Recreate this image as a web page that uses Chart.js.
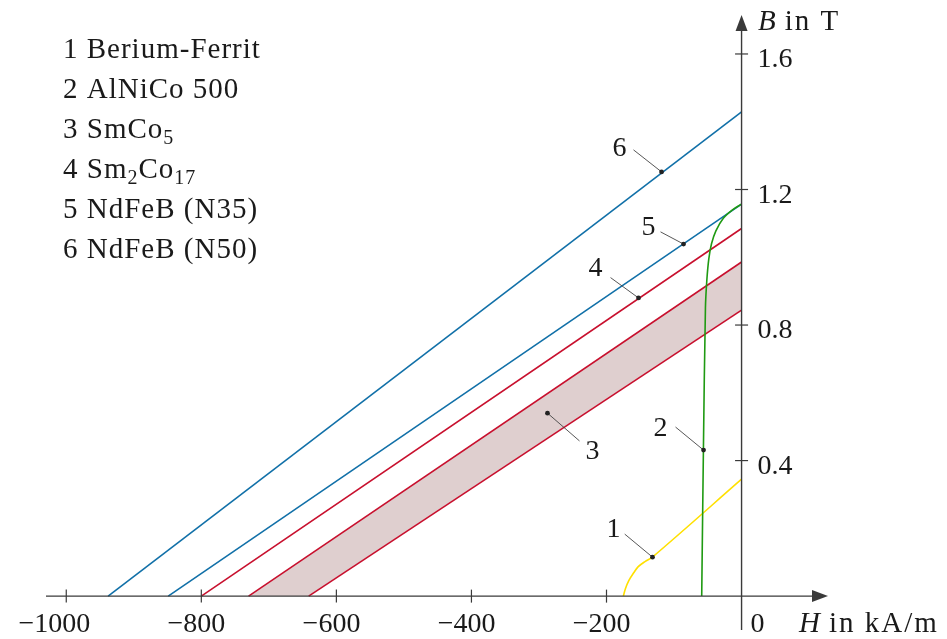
<!DOCTYPE html>
<html>
<head>
<meta charset="utf-8">
<script src="https://cdn.jsdelivr.net/npm/chart.js@4/dist/chart.umd.min.js"></script>
<style>
  html, body { margin: 0; padding: 0; background: #ffffff; }
  #wrap { width: 947px; height: 639px; position: relative; }
</style>
</head>
<body>
<div id="wrap"><canvas id="c" width="947" height="639"></canvas></div>
<script>
// ---- data (H in kA/m, B in T) ----
const legendItems = [
  [{t: "1 Berium-Ferrit"}],
  [{t: "2 AlNiCo 500"}],
  [{t: "3 SmCo"}, {t: "5", sub: true}],
  [{t: "4 Sm"}, {t: "2", sub: true}, {t: "Co"}, {t: "17", sub: true}],
  [{t: "5 NdFeB (N35)"}],
  [{t: "6 NdFeB (N50)"}]
];
const xTicks = [-1000, -800, -600, -400, -200];
const yTicks = [0.4, 0.8, 1.2, 1.6];
const xTickLabels = ["\u22121000", "\u2212800", "\u2212600", "\u2212400", "\u2212200"];
const yTickLabels = ["0.4", "0.8", "1.2", "1.6"];

const bariumFerrit = [
  {x: -175, y: 0}, {x: -172, y: 0.022}, {x: -167, y: 0.046}, {x: -160, y: 0.068},
  {x: -153, y: 0.087}, {x: -143, y: 0.102}, {x: -132, y: 0.115}, {x: 0, y: 0.345}
];
const alnico500 = [
  {x: -59, y: 0}, {x: -56.5, y: 0.43}, {x: -53.5, y: 0.85}, {x: -51.5, y: 0.93},
  {x: -48.5, y: 0.995}, {x: -44.5, y: 1.04}, {x: -38, y: 1.078}, {x: -27, y: 1.115},
  {x: -13.5, y: 1.14}, {x: 0, y: 1.157}
];
const smco5Upper = [{x: -730, y: 0}, {x: 0, y: 0.986}];
const smco5Lower = [{x: -641, y: 0}, {x: 0, y: 0.844}];
const sm2co17 = [{x: -800, y: 0}, {x: 0, y: 1.085}];
const ndfebN35 = [{x: -849, y: 0}, {x: 0, y: 1.157}];
const ndfebN50 = [{x: -938, y: 0}, {x: 0, y: 1.429}];
// SmCo5 spread band: upper line forward, lower line back
const smco5Band = smco5Upper.concat(smco5Lower.slice().reverse());

// callouts: label text, marker on curve, leader end, label centre (data coords)
const callouts = [
  {t: "1", dot: [-131.9, 0.115], lead: [-173, 0.183], lab: [-189.6, 0.200]},
  {t: "2", dot: [-56.3, 0.431], lead: [-97.8, 0.499], lab: [-120, 0.496]},
  {t: "3", dot: [-287.4, 0.540], lead: [-240, 0.458], lab: [-220.7, 0.428]},
  {t: "4", dot: [-152.6, 0.880], lead: [-194, 0.940], lab: [-216.3, 0.968]},
  {t: "5", dot: [-85.9, 1.039], lead: [-120, 1.075], lab: [-137.8, 1.089]},
  {t: "6", dot: [-118.5, 1.252], lead: [-160, 1.317], lab: [-180.7, 1.325]}
];

const FONT = '"Liberation Serif", "Times New Roman", serif';
const FS = 28;
const AXIS = '#3a3a3a';
const BLUE = '#1170a8';
const RED = '#c8102e';
const GREEN = '#1f9a12';
const YELLOW = '#ffe000';
const BAND = '#dfcfcf';

function drawRich(ctx, segs, x, y, size) {
  let cx = x;
  for (const s of segs) {
    if (s.sub) {
      ctx.font = Math.round(size * 0.7) + 'px ' + FONT;
      ctx.fillText(s.t, cx, y + size * 0.2);
    } else {
      ctx.font = size + 'px ' + FONT;
      ctx.fillText(s.t, cx, y);
    }
    cx += ctx.measureText(s.t).width;
  }
}

function drawTitle(ctx, italicPart, rest, x, y) {
  ctx.letterSpacing = '2px';
  ctx.font = 'italic ' + (FS + 1) + 'px ' + FONT;
  ctx.fillText(italicPart, x, y);
  const w = ctx.measureText(italicPart).width;
  ctx.font = (FS + 1) + 'px ' + FONT;
  ctx.fillText(rest, x + w + 7, y);
  ctx.letterSpacing = '0px';
}

const axesPlugin = {
  id: 'axesPlugin',
  afterDatasetsDraw(chart) {
    const ctx = chart.ctx;
    const xs = chart.scales.x, ys = chart.scales.y;
    const X = v => xs.getPixelForValue(v), Y = v => ys.getPixelForValue(v);
    ctx.save();
    ctx.strokeStyle = AXIS;
    ctx.fillStyle = AXIS;
    ctx.lineWidth = 1.4;
    // x axis
    const y0 = Y(0), x0 = X(0);
    const xl = X(xs.min), xr = X(xs.max);
    ctx.beginPath(); ctx.moveTo(xl, y0); ctx.lineTo(xr - 10, y0); ctx.stroke();
    ctx.beginPath(); ctx.moveTo(xr, y0); ctx.lineTo(xr - 16, y0 - 6); ctx.lineTo(xr - 16, y0 + 6); ctx.closePath(); ctx.fill();
    // y axis
    const yb = Y(ys.min), yt = Y(ys.max);
    ctx.beginPath(); ctx.moveTo(x0, yb); ctx.lineTo(x0, yt + 10); ctx.stroke();
    ctx.beginPath(); ctx.moveTo(x0, yt); ctx.lineTo(x0 - 6, yt + 16); ctx.lineTo(x0 + 6, yt + 16); ctx.closePath(); ctx.fill();
    // ticks
    ctx.lineWidth = 1.2;
    xTicks.forEach(v => { ctx.beginPath(); ctx.moveTo(X(v), y0 - 6.5); ctx.lineTo(X(v), y0 + 6.5); ctx.stroke(); });
    yTicks.forEach(v => { ctx.beginPath(); ctx.moveTo(x0 - 6.5, Y(v)); ctx.lineTo(x0 + 6.5, Y(v)); ctx.stroke(); });
    // tick labels
    ctx.fillStyle = '#1a1a1a';
    ctx.font = FS + 'px ' + FONT;
    ctx.textBaseline = 'alphabetic';
    ctx.textAlign = 'right';
    xTicks.forEach((v, i) => ctx.fillText(xTickLabels[i], X(v) + 24, y0 + 36));
    ctx.textAlign = 'left';
    ctx.fillText('0', x0 + 9, y0 + 36);
    yTicks.forEach((v, i) => ctx.fillText(yTickLabels[i], x0 + 16, Y(v) + 13));
    // axis titles
    drawTitle(ctx, 'H', 'in kA/m', 799, y0 + 36);
    drawTitle(ctx, 'B', 'in T', 758, 30);
    // legend text
    ctx.letterSpacing = '1px';
    legendItems.forEach((segs, i) => drawRich(ctx, segs, 63, 58 + i * 40, FS + 1));
    ctx.letterSpacing = '0px';
    // callouts
    ctx.textAlign = 'center'; ctx.textBaseline = 'middle';
    ctx.font = FS + 'px ' + FONT;
    callouts.forEach(c => {
      ctx.strokeStyle = '#444'; ctx.lineWidth = 0.9;
      ctx.beginPath(); ctx.moveTo(X(c.dot[0]), Y(c.dot[1])); ctx.lineTo(X(c.lead[0]), Y(c.lead[1])); ctx.stroke();
      ctx.fillStyle = '#222';
      ctx.beginPath(); ctx.arc(X(c.dot[0]), Y(c.dot[1]), 2.4, 0, Math.PI * 2); ctx.fill();
      ctx.fillStyle = '#1a1a1a';
      ctx.fillText(c.t, X(c.lab[0]), Y(c.lab[1]) + 1);
    });
    ctx.restore();
  }
};

const lineDs = (data, color, extra) => Object.assign({
  data, borderColor: color, backgroundColor: color, borderWidth: 1.6,
  showLine: true, pointRadius: 0, fill: false, tension: 0
}, extra || {});

new Chart(document.getElementById('c'), {
  type: 'scatter',
  data: {
    datasets: [
      lineDs(smco5Upper, RED, {order: 1}),
      lineDs(smco5Lower, RED, {order: 1}),
      lineDs(sm2co17, RED, {order: 1}),
      lineDs(ndfebN35, BLUE, {order: 1}),
      lineDs(ndfebN50, BLUE, {order: 1}),
      lineDs(alnico500, GREEN, {tension: 0.35, order: 0}),
      lineDs(bariumFerrit, YELLOW, {tension: 0.35, order: 0}),
      lineDs(smco5Band, 'rgba(0,0,0,0)', {fill: 'shape', backgroundColor: BAND, borderWidth: 0, order: 9})
    ]
  },
  options: {
    responsive: false,
    animation: false,
    layout: { padding: { left: 46, right: 119, top: 15, bottom: 9 } },
    scales: {
      x: { type: 'linear', min: -1030, max: 128, display: false },
      y: { type: 'linear', min: -0.1, max: 1.715, display: false }
    },
    plugins: { legend: { display: false }, tooltip: { enabled: false } }
  },
  plugins: [axesPlugin]
});
</script>
</body>
</html>
